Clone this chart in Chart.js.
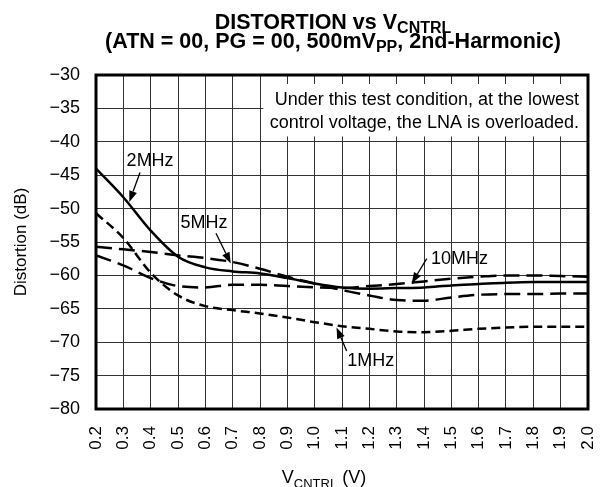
<!DOCTYPE html>
<html><head><meta charset="utf-8">
<script src="https://cdn.jsdelivr.net/npm/chart.js@4.4.1/dist/chart.umd.min.js"></script>
<style>html,body{margin:0;padding:0;background:#fff}</style>
</head><body>
<canvas id="c" width="603" height="487"></canvas>
<script>
// ---- data ----
const VCNTRL = [0.2,0.3,0.4,0.5,0.6,0.7,0.8,0.9,1.0,1.1,1.2,1.3,1.4,1.5,1.6,1.7,1.8,1.9,2.0];
const DIST_1MHZ  = [-50.7,-54.4,-59.6,-63.0,-64.6,-65.2,-65.7,-66.3,-67.0,-67.6,-68.0,-68.4,-68.5,-68.3,-68.0,-67.8,-67.7,-67.7,-67.7];
const DIST_2MHZ  = [-44.0,-48.3,-53.3,-57.2,-58.8,-59.4,-59.7,-60.4,-61.2,-61.8,-62.0,-61.9,-61.8,-61.5,-61.3,-61.1,-61.0,-61.0,-61.0];
const DIST_5MHZ  = [-55.7,-56.1,-56.5,-57.0,-57.4,-58.0,-59.0,-60.2,-61.2,-62.2,-63.0,-63.7,-63.8,-63.3,-62.9,-62.8,-62.8,-62.7,-62.7];
const DIST_10MHZ = [-57.0,-58.5,-60.4,-61.6,-61.8,-61.4,-61.4,-61.6,-61.8,-61.9,-61.6,-61.3,-60.9,-60.5,-60.2,-60.0,-60.0,-60.1,-60.2];
const SERIES_NAMES = ['1MHz','2MHz','5MHz','10MHz'];
const X_TICKS = [0.2,0.3,0.4,0.5,0.6,0.7,0.8,0.9,1.0,1.1,1.2,1.3,1.4,1.5,1.6,1.7,1.8,1.9,2.0];
const X_TICK_LABELS = ['0.2','0.3','0.4','0.5','0.6','0.7','0.8','0.9','1.0','1.1','1.2','1.3','1.4','1.5','1.6','1.7','1.8','1.9','2.0'];
const Y_TICKS = [-80,-75,-70,-65,-60,-55,-50,-45,-40,-35,-30];
const Y_TICK_LABELS = ['\u221280','\u221275','\u221270','\u221265','\u221260','\u221255','\u221250','\u221245','\u221240','\u221235','\u221230'];

// ---- annotations (in data units) ----
const CALLOUTS = [
  {text:'2MHz',  x:0.398, y:-42.9, fx:0.361, fy:-44.6, tx:0.322, ty:-49.0},
  {text:'5MHz',  x:0.595, y:-52.1, fx:0.639, fy:-53.7, tx:0.693, ty:-58.2},
  {text:'10MHz', x:1.530, y:-57.5, fx:1.410, fy:-57.5, tx:1.355, ty:-61.2},
  {text:'1MHz',  x:1.205, y:-72.8, fx:1.117, fy:-71.3, tx:1.080, ty:-67.8}
];
const NOTE_LINES = ['Under this test condition, at the lowest','control voltage, the LNA is overloaded.'];
const NOTE_BOX = {x0:0.812, x1:2.0, y0:-31.35, y1:-39.2, tx:1.967, ty:[-34.5,-37.95]};

const FONT = "'Liberation Sans', Arial, Helvetica, sans-serif";
const pts = arr => VCNTRL.map((v,i)=>({x:v,y:arr[i]}));

function subText(ctx, parts, cx, y, align){
  let w = 0;
  parts.forEach(p=>{ctx.font=p[1]; w+=ctx.measureText(p[0]).width;});
  let x = align==='center' ? cx - w/2 : cx;
  ctx.textAlign='left'; ctx.textBaseline='alphabetic';
  parts.forEach(p=>{ctx.font=p[1]; ctx.fillText(p[0], x, y+p[2]); x+=ctx.measureText(p[0]).width;});
}

const decor = {
  id:'decor',
  beforeDatasetsDraw(chart){
    const {ctx, scales:{x,y}} = chart;
    ctx.save();
    ctx.fillStyle='#fff';
    const X0=x.getPixelForValue(NOTE_BOX.x0), X1=x.getPixelForValue(NOTE_BOX.x1);
    const Y0=y.getPixelForValue(NOTE_BOX.y0), Y1=y.getPixelForValue(NOTE_BOX.y1);
    ctx.fillRect(X0, Y0, X1-X0, Y1-Y0);
    ctx.fillStyle='#000';
    ctx.font = '18px '+FONT; ctx.textAlign='right'; ctx.textBaseline='alphabetic';
    NOTE_LINES.forEach((t,i)=>ctx.fillText(t, x.getPixelForValue(NOTE_BOX.tx), y.getPixelForValue(NOTE_BOX.ty[i])));
    ctx.restore();
  },
  afterDatasetsDraw(chart){
    const {ctx, chartArea:a, scales:{x,y}} = chart;
    ctx.save();
    CALLOUTS.forEach(c=>{
      ctx.fillStyle='#000'; ctx.font='18px '+FONT; ctx.textAlign='center'; ctx.textBaseline='middle';
      ctx.fillText(c.text, x.getPixelForValue(c.x), y.getPixelForValue(c.y));
      const fx=x.getPixelForValue(c.fx), fy=y.getPixelForValue(c.fy);
      const tx=x.getPixelForValue(c.tx), ty=y.getPixelForValue(c.ty);
      const ang=Math.atan2(ty-fy, tx-fx), L=11, W=4;
      const bx=tx-L*Math.cos(ang), by=ty-L*Math.sin(ang);
      ctx.strokeStyle='#000'; ctx.lineWidth=1.3;
      ctx.beginPath(); ctx.moveTo(fx,fy); ctx.lineTo(bx,by); ctx.stroke();
      ctx.beginPath(); ctx.moveTo(tx,ty);
      ctx.lineTo(bx+W*Math.sin(ang), by-W*Math.cos(ang));
      ctx.lineTo(bx-W*Math.sin(ang), by+W*Math.cos(ang));
      ctx.closePath(); ctx.fill();
    });
    ctx.strokeStyle='#000'; ctx.lineWidth=3;
    ctx.strokeRect(a.left, a.top, a.right-a.left, a.bottom-a.top);
    ctx.restore();
  },
  afterDraw(chart){
    const {ctx, chartArea:a} = chart;
    ctx.save(); ctx.fillStyle='#000';
    const B='bold 21.5px '+FONT, BS='bold 16px '+FONT;
    subText(ctx, [['DISTORTION vs V',B,0],['CNTRL',BS,4]], 333, 29, 'center');
    subText(ctx, [['(ATN = 00, PG = 00, 500mV',B,0],['PP',BS,4],[', 2nd-Harmonic)',B,0]], 333, 48, 'center');
    const R='18px '+FONT, RS='13px '+FONT;
    subText(ctx, [['V',R,0],['CNTRL',RS,5],[' (V)',R,0]], 324, 483, 'center');
    ctx.translate(26, (a.top+a.bottom)/2); ctx.rotate(-Math.PI/2);
    ctx.font='17px '+FONT; ctx.textAlign='center'; ctx.textBaseline='alphabetic';
    ctx.fillText('Distortion (dB)', 0, 0);
    ctx.restore();
  }
};

const base = {borderColor:'#000', borderWidth:2.5, pointRadius:0, fill:false, cubicInterpolationMode:'monotone'};
new Chart(document.getElementById('c'), {
  type:'line',
  data:{datasets:[
    Object.assign({label:SERIES_NAMES[0], data:pts(DIST_1MHZ),  borderDash:[9,5]}, base),
    Object.assign({label:SERIES_NAMES[1], data:pts(DIST_2MHZ)}, base),
    Object.assign({label:SERIES_NAMES[2], data:pts(DIST_5MHZ),  borderDash:[16,7]}, base),
    Object.assign({label:SERIES_NAMES[3], data:pts(DIST_10MHZ), borderDash:[16,7]}, base)
  ]},
  options:{
    responsive:false, animation:false, devicePixelRatio:1,
    layout:{padding:{top:75,left:0,right:15,bottom:0}},
    plugins:{legend:{display:false}, title:{display:false}, tooltip:{enabled:false}},
    scales:{
      x:{type:'linear', min:0.2, max:2.0,
         afterBuildTicks:s=>{s.ticks=X_TICKS.map(v=>({value:v}));},
         afterFit:s=>{s.height=78; s.paddingLeft=0; s.paddingRight=0;},
         ticks:{autoSkip:false, minRotation:90, maxRotation:90, padding:17, color:'#000',
                font:{family:FONT, size:17}, callback:(v,i)=>X_TICK_LABELS[i]},
         grid:{color:'#333', lineWidth:1, drawTicks:false}, border:{display:false}},
      y:{type:'linear', min:-80, max:-30,
         afterBuildTicks:s=>{s.ticks=Y_TICKS.map(v=>({value:v}));},
         afterFit:s=>{s.width=96; s.paddingTop=0; s.paddingBottom=0;},
         ticks:{padding:16, color:'#000', font:{family:FONT, size:18}, callback:(v,i)=>Y_TICK_LABELS[i]},
         grid:{color:'#333', lineWidth:1, drawTicks:false}, border:{display:false}}
    }
  },
  plugins:[decor]
});
</script>
</body></html>
